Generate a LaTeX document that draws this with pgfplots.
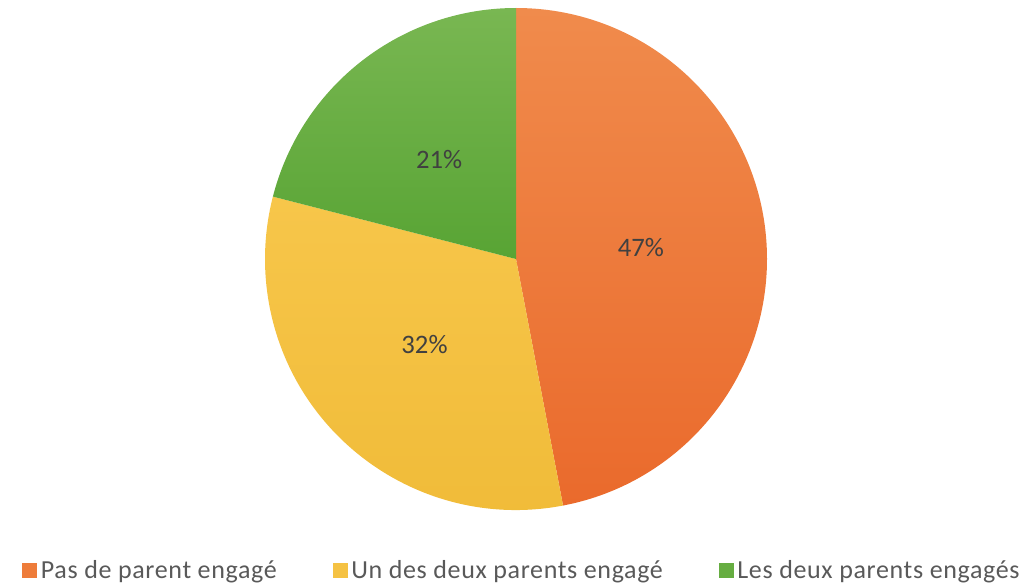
\documentclass[border=0pt]{standalone}
\usepackage{pgfplots}
\pgfplotsset{compat=1.18}
\usepackage{pgfplotstable}
\usepackage{fontspec}
\setmainfont{Carlito}
\newfontfamily\legfont[LetterSpace=2.5]{Carlito}

\definecolor{slice0}{HTML}{EE7C3A}
\definecolor{slice1}{HTML}{F5C243}
\definecolor{slice2}{HTML}{66AD41}
\definecolor{slice0top}{HTML}{F08B4C}
\definecolor{slice0bot}{HTML}{EA6A2C}
\definecolor{slice1top}{HTML}{F7C64A}
\definecolor{slice1bot}{HTML}{F0BB38}
\definecolor{slice2top}{HTML}{79B752}
\definecolor{slice2bot}{HTML}{58A434}
\definecolor{lbl}{HTML}{404040}
\definecolor{leg}{HTML}{595959}

% idx, cumulative share before the slice, share (%)
\pgfplotstableread{
idx before share
0 0 47
1 47 32
2 79 21
}\piedata

\newcommand\pieR{188.25pt}
\pgfdeclareplotmark{pieslice}{%
  \pgfmathtruncatemacro\ii{\idx}%
  \shade[draw=none, top color=slice\ii top, bottom color=slice\ii bot]
    (0pt,0pt) -- (\sa:\pieR) arc[start angle=\sa, end angle=\ea, radius=\pieR] -- cycle;}

\pgfplotsset{
  legsq/.style={legend image code/.code={\fill[#1] (0pt,-5.25pt) rectangle (10.5pt,5.25pt);}}
}

\begin{document}
\begin{tikzpicture}
\useasboundingbox (0,0) rectangle (774pt,437.25pt);
\begin{axis}[
  hide axis, scale only axis,
  width=376.5pt, height=376.5pt,
  xmin=-1, xmax=1, ymin=-1, ymax=1,
  at={(387pt,243pt)}, anchor=center,
  clip=false,
  /pgf/number format/assume math mode=true,
  legend columns=3,
  legend cell align=left,
  legend style={at={(0.514,-0.1195)}, anchor=center, draw=none, fill=none,
    font=\legfont\fontsize{19.5}{22}\selectfont, text=leg,
    nodes={inner xsep=3pt, inner ysep=0pt},
    /tikz/every even column/.append style={column sep=39pt}},
]
\addplot[forget plot, draw=none, only marks, mark=pieslice, mark options={draw=none},
  visualization depends on={\thisrow{idx}}\as\idx,
  visualization depends on={90-3.6*\thisrow{before}}\as\sa,
  visualization depends on={90-3.6*(\thisrow{before}+\thisrow{share})}\as\ea,
] table[x expr=0, y expr=0] {\piedata};
\addplot[forget plot, only marks, mark=*, mark size=0pt, mark options={draw=none, fill=none},
  point meta=\thisrow{share},
  nodes near coords={\pgfmathprintnumber{\pgfplotspointmeta}\%},
  nodes near coords style={anchor=center, text=lbl, font=\fontsize{20}{24}\selectfont},
] table[x expr={0.5*cos(90-3.6*(\thisrow{before}+0.5*\thisrow{share}))},
        y expr={0.5*sin(90-3.6*(\thisrow{before}+0.5*\thisrow{share}))}] {\piedata};
\addlegendimage{legsq=slice0}
\addlegendentry{Pas de parent engagé}
\addlegendimage{legsq=slice1}
\addlegendentry{Un des deux parents engagé}
\addlegendimage{legsq=slice2}
\addlegendentry{Les deux parents engagés}
\end{axis}
\end{tikzpicture}
\end{document}
